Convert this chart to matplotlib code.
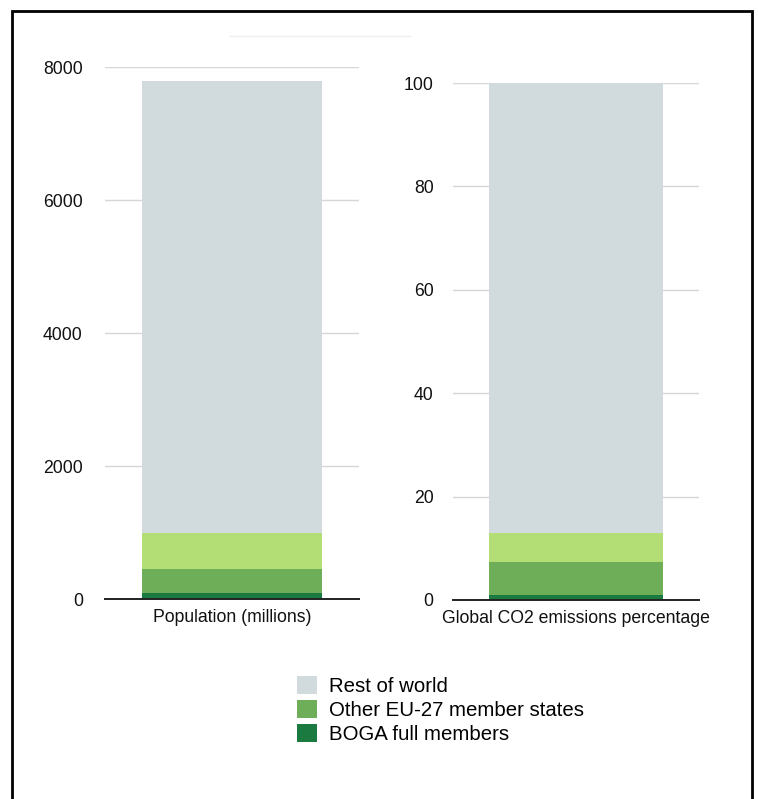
import matplotlib
matplotlib.use("Agg")
import matplotlib.pyplot as plt
from matplotlib.lines import Line2D
from matplotlib.patches import Patch

plt.rcParams['font.family'] = ['Liberation Sans', 'DejaVu Sans']

# Stack order, bottom to top
segments = ["BOGA full members", "Other EU-27 member states",
            "Other partners", "Rest of world"]
colors = ["#1a7a40", "#6fae58", "#b3de75", "#d1dbdd"]

population = [86, 361, 543, 6800]          # millions
co2_share = [1.0, 6.4, 5.5, 87.1]          # % of global CO2 emissions

panel_labels = ["Population (millions)", "Global CO2 emissions percentage"]
pop_ticks = [0, 2000, 4000, 6000, 8000]
co2_ticks = [0, 20, 40, 60, 80, 100]
legend_order = ["Rest of world", "Other EU-27 member states", "BOGA full members"]

W, H = 758, 799
fig = plt.figure(figsize=(W / 100, H / 100), dpi=100)


def px_axes(x0, x1, ytop, ybot):
    return fig.add_axes([x0 / W, (H - ybot) / H, (x1 - x0) / W, (ybot - ytop) / H])


ax1 = px_axes(105, 359, 67.3, 599)
ax2 = px_axes(453, 699, 83, 600)

for ax, values, ticks, label, pad in [
    (ax1, population, pop_ticks, panel_labels[0], 16),
    (ax2, co2_share, co2_ticks, panel_labels[1], 14),
]:
    bottom = 0
    for v, c in zip(values, colors):
        ax.bar(0, v, width=0.71, bottom=bottom, color=c, zorder=2)
        bottom += v
    ax.set_xlim(-0.5, 0.5)
    ax.set_ylim(0, ticks[-1])
    ax.set_yticks(ticks)
    ax.set_xticks([0], [label])
    ax.tick_params(axis='y', length=0, pad=pad, labelsize=12.7, labelcolor='#111111')
    ax.tick_params(axis='x', length=0, pad=7, labelsize=12.7, labelcolor='#111111')
    ax.grid(axis='y', color='#d6d6d6', linewidth=1, zorder=0)
    for s in ['top', 'right', 'left']:
        ax.spines[s].set_visible(False)
    ax.spines['bottom'].set_color('#222222')
    ax.spines['bottom'].set_linewidth(1.4)
    ax.spines['bottom'].set_zorder(3)

# legend shows three of the four segments
handles = [Patch(facecolor=colors[segments.index(n)], edgecolor='none', label=n)
           for n in legend_order]
fig.legend(handles=handles, loc='upper left', bbox_to_anchor=(297 / W, 1 - 676 / H),
           frameon=False, fontsize=14.7, handlelength=1.0, handleheight=1.0,
           handletextpad=0.58, labelspacing=0.18, borderaxespad=0, borderpad=0)

# faint title rule and page frame
fig.add_artist(Line2D([230 / W, 410 / W], [1 - 36 / H] * 2, color='#efefef', lw=1))
fx0, fx1, fy = 12 / W, 752 / W, 1 - 11 / H
fig.add_artist(Line2D([fx0, fx0, fx1, fx1], [0, fy, fy, 0], color='black', lw=2,
                      solid_joinstyle='miter'))

fig.savefig("out.png", dpi=100)
